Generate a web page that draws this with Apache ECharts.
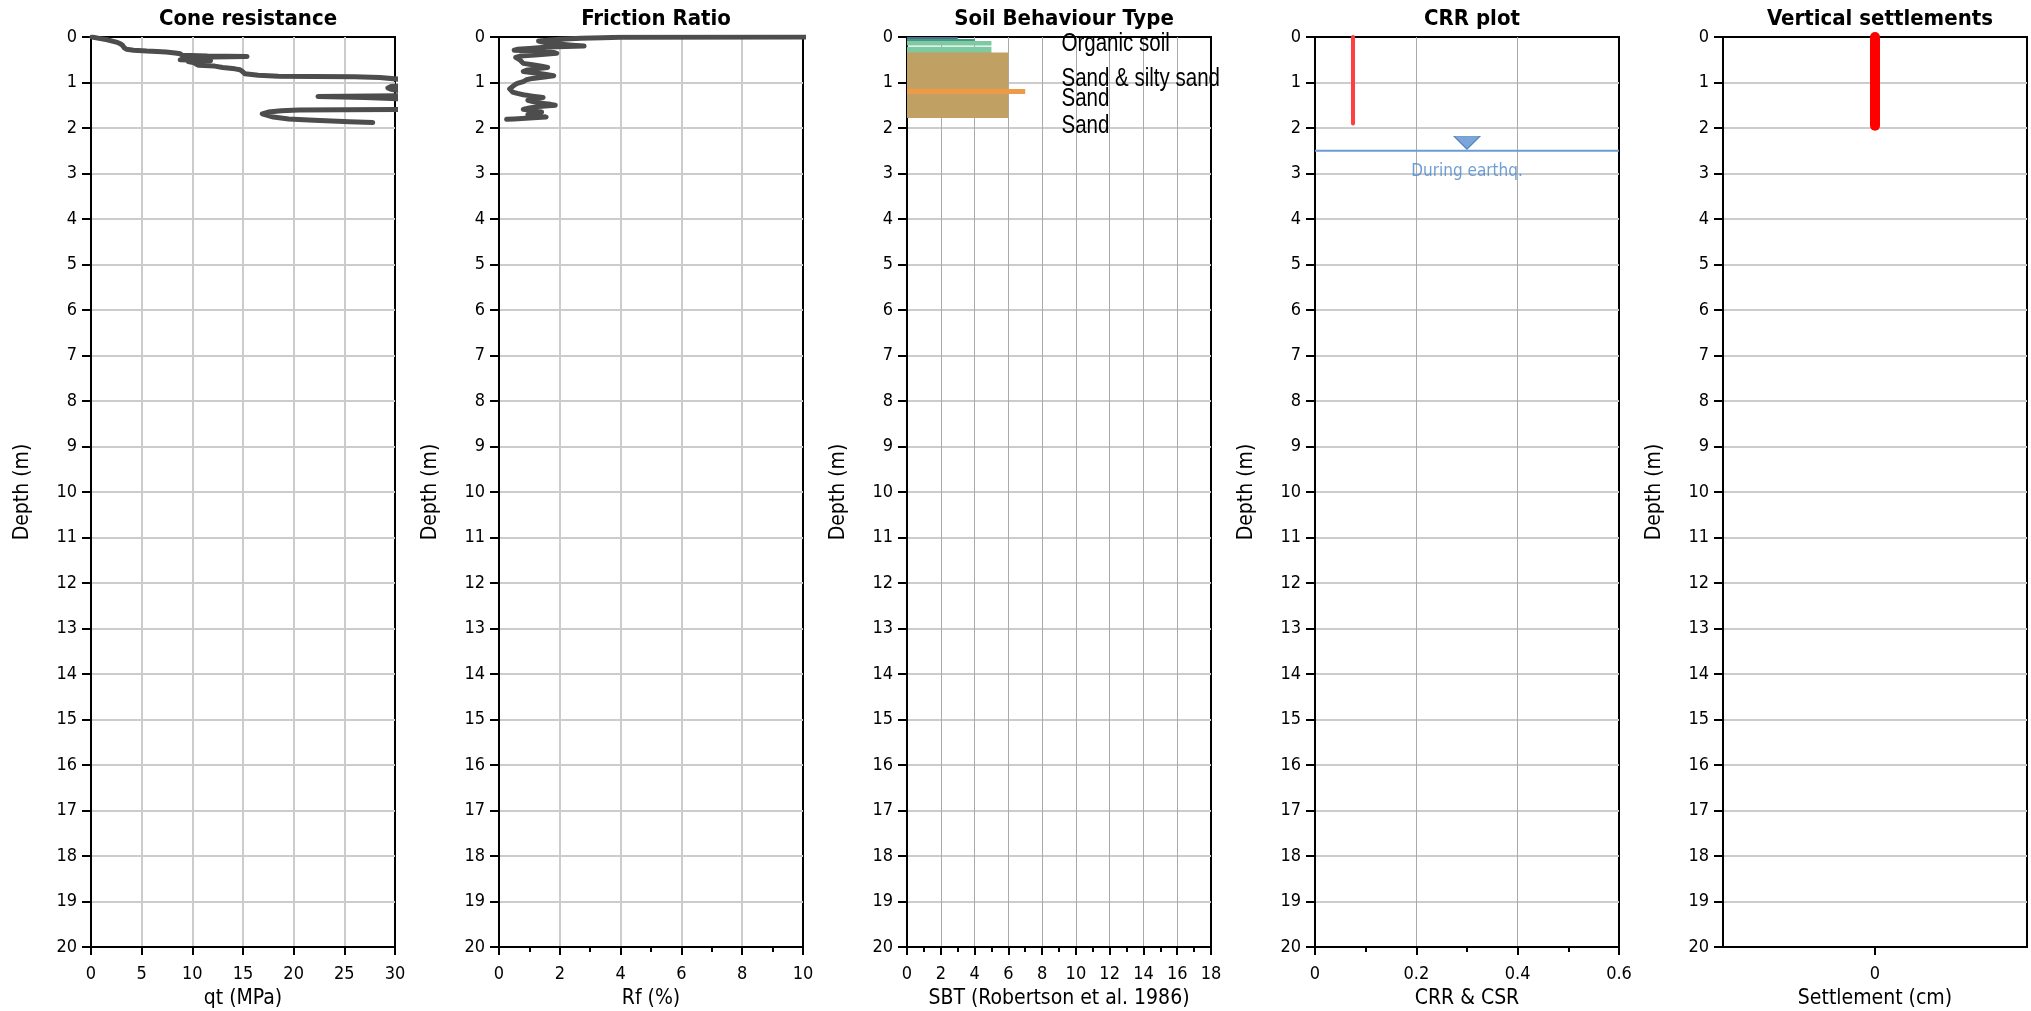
<!DOCTYPE html>
<html>
<head>
<meta charset="utf-8">
<title>CPT liquefaction profile</title>
<script src="https://cdn.jsdelivr.net/npm/echarts@6/dist/echarts.min.js"></script>
<style>
  html, body { margin: 0; padding: 0; background: #ffffff; }
  #chart { width: 2031px; height: 1011px; }
</style>
</head>
<body>
<div id="chart"></div>
<script>
// ---- Cone resistance qt (MPa) against depth (m)
const coneDepth = [0.00, 0.03, 0.06, 0.09, 0.12, 0.15, 0.18, 0.21, 0.24, 0.27, 0.29, 0.31, 0.32, 0.33, 0.35, 0.37,
  0.40, 0.42, 0.43, 0.44, 0.46, 0.48, 0.50, 0.52, 0.54, 0.57, 0.60, 0.62, 0.64, 0.67, 0.70, 0.72, 0.75, 0.78,
  0.81, 0.84, 0.86, 0.87, 0.875, 0.89, 0.93, 0.98, 1.05, 1.09, 1.12, 1.15, 1.18, 1.24, 1.29, 1.305, 1.33, 1.36,
  1.45, 1.56, 1.59, 1.60, 1.605, 1.62, 1.65, 1.69, 1.72, 1.76, 1.80, 1.83, 1.86, 1.88];
const coneQt = [0.1, 0.8, 1.6, 2.1, 2.6, 2.9, 3.1, 3.2, 3.3, 3.5, 4.2, 5.5, 6.5, 7.4, 8.3, 8.8,
  9.0, 11.5, 15.4, 12.0, 9.2, 10.5, 8.8, 11.8, 9.6, 10.2, 10.4, 10.6, 12.2, 13.0, 14.2, 14.7, 14.9, 15.0,
  15.2, 16.5, 18.5, 22.0, 26.0, 28.5, 30.5, 33.0, 31.5, 29.6, 29.3, 29.6, 30.4, 32.0, 31.0, 22.4, 27.0, 31.0,
  34.0, 32.0, 31.0, 25.0, 20.5, 18.8, 17.5, 16.9, 16.9, 18.0, 19.5, 22.0, 25.5, 27.8];

// ---- Friction ratio Rf (%) against depth (m)
const frDepth = [0.000, 0.005, 0.015, 0.03, 0.05, 0.07, 0.09, 0.12, 0.15, 0.18, 0.20, 0.22, 0.25, 0.27, 0.29,
  0.31, 0.34, 0.36, 0.39, 0.42, 0.45, 0.48, 0.51, 0.55, 0.58, 0.61, 0.64, 0.67, 0.70, 0.73, 0.76, 0.79, 0.82,
  0.85, 0.88, 0.91, 0.94, 0.98, 1.02, 1.06, 1.10, 1.14, 1.18, 1.21, 1.24, 1.27, 1.30, 1.33, 1.36, 1.39, 1.42,
  1.45, 1.48, 1.50, 1.53, 1.56, 1.59, 1.62, 1.65, 1.68, 1.71, 1.74, 1.76, 1.78, 1.80, 1.81];
const frRf = [10.5, 4.0, 3.4, 2.7, 2.0, 1.6, 1.3, 1.5, 1.9, 2.4, 2.8, 1.6, 1.0, 0.6, 0.5,
  1.2, 1.8, 1.9, 1.3, 0.7, 0.55, 0.6, 0.7, 0.7, 0.8, 1.1, 1.4, 1.6, 1.2, 0.9, 0.8, 1.2, 1.5,
  1.8, 1.5, 1.1, 0.9, 0.8, 0.6, 0.5, 0.45, 0.35, 0.35, 0.45, 0.6, 0.8, 1.1, 1.45, 1.2, 0.95, 0.9,
  1.3, 1.7, 1.85, 1.3, 1.0, 0.8, 1.1, 1.4, 1.45, 0.95, 1.4, 1.55, 1.0, 0.5, 0.25];

// ---- Soil behaviour type layers (Robertson et al. 1986)
const sbtTop = [0.00, 0.044, 0.088, 0.213, 0.338, 1.143];
const sbtBottom = [0.044, 0.088, 0.185, 0.352, 1.780, 1.253];
const sbtZone = [3, 4, 5, 5, 6, 7];
const sbtLabelText = ['Organic soil', 'Sand & silty sand', 'Sand', 'Sand'];
const sbtLabelDepth = [0.15, 0.93, 1.36, 1.95];

// ---- CRR profile and water table
const crrDepth = [0, 1.9];
const crrValue = [0.075, 0.075];
const waterTableDepth = 2.5;
const waterTableLabel = 'During earthq.';

// ---- Vertical settlements (cm)
const settleDepth = [0, 1.95];
const settleValue = [0, 0];

// ---- panel titles and axis names
const panelTitles = ['Cone resistance', 'Friction Ratio', 'Soil Behaviour Type', 'CRR plot', 'Vertical settlements'];
const xNames = ['qt (MPa)', 'Rf (%)', 'SBT (Robertson et al. 1986)', 'CRR & CSR', 'Settlement (cm)'];
const depthName = 'Depth (m)';

// colours per SBT zone
const zoneColor = { 3: '#4b6f8a', 4: '#3f9a86', 5: '#7ec8a2', 6: '#c1a064', 7: '#f09a48' };

const FONT = "'DejaVu Sans Condensed', 'DejaVu Sans', sans-serif";
const LABEL_FONT = "'Liberation Sans', Arial, sans-serif";
const gridLeft = [91, 499, 907, 1315, 1723];
const gridW = 304, gridTop = 37, gridH = 910;

const xSpec = [
  { min: 0, max: 30, interval: 5, minor: false, splitColor: '#cccccc', splitWidth: 2 },
  { min: 0, max: 10, interval: 2, minor: true, splitColor: '#cccccc', splitWidth: 2 },
  { min: 0, max: 18, interval: 2, minor: true, splitColor: '#aaaaaa', splitWidth: 1 },
  { min: 0, max: 0.6, interval: 0.2, minor: true, splitColor: '#aaaaaa', splitWidth: 1 },
  { min: -1, max: 1, interval: 1, minor: false, splitColor: '#cccccc', splitWidth: 2, onlyZero: true }
];

const grids = gridLeft.map(l => ({
  left: l, top: gridTop, width: gridW, height: gridH,
  show: true, borderColor: '#000', borderWidth: 2, backgroundColor: 'transparent',
  containLabel: false, outerBoundsMode: 'none'
}));

const xAxes = xSpec.map((s, i) => {
  const ax = {
    type: 'value', gridIndex: i, min: s.min, max: s.max, interval: s.interval,
    name: xNames[i], nameLocation: 'middle', nameGap: 34,
    nameTextStyle: { fontFamily: FONT, fontSize: 21, color: '#000' },
    axisLine: { show: true, onZero: false, lineStyle: { color: '#000', width: 2 } },
    axisTick: { show: true, inside: false, length: 8, lineStyle: { color: '#000', width: 2 } },
    minorTick: { show: s.minor, splitNumber: 2, length: 5, lineStyle: { color: '#000', width: 2 } },
    axisLabel: { show: true, fontFamily: FONT, fontSize: 18, color: '#000', margin: 18,
      formatter: v => String(Math.round(v * 100) / 100) },
    splitLine: { show: true, showMinLine: false, showMaxLine: false,
      lineStyle: { color: s.splitColor, width: s.splitWidth } },
    minorSplitLine: { show: false }
  };
  if (s.onlyZero) {
    ax.axisLabel.formatter = v => (Math.abs(v) < 1e-9 ? '0' : '');
    ax.axisLabel.customValues = [0];
    ax.axisTick.customValues = [0];
  }
  return ax;
});

const yAxes = gridLeft.map((l, i) => ({
  type: 'value', gridIndex: i, inverse: true, min: 0, max: 20, interval: 1,
  name: depthName, nameLocation: 'middle', nameGap: 58, nameRotate: 90,
  nameTextStyle: { fontFamily: FONT, fontSize: 21, color: '#000' },
  axisLine: { show: true, onZero: false, lineStyle: { color: '#000', width: 2 } },
  axisTick: { show: true, inside: false, length: 9, lineStyle: { color: '#000', width: 2 } },
  axisLabel: { show: true, fontFamily: FONT, fontSize: 18, color: '#000', margin: 14 },
  splitLine: { show: true, showMinLine: false, showMaxLine: false,
    lineStyle: { color: '#cccccc', width: 2 } }
}));

const titles = panelTitles.map((t, i) => ({
  text: t, left: gridLeft[i] + gridW / 2, top: 3, textAlign: 'center',
  textStyle: { fontFamily: FONT, fontSize: 22, fontWeight: 'bold', color: '#000' }
}));

const pairs = (xs, ys) => xs.map((x, k) => [x, ys[k]]);

const series = [
  {
    type: 'line', xAxisIndex: 0, yAxisIndex: 0, clip: true, symbol: 'none',
    data: pairs(coneQt, coneDepth),
    lineStyle: { color: '#4d4d4d', width: 5, join: 'round', cap: 'round' }
  },
  {
    type: 'line', xAxisIndex: 1, yAxisIndex: 1, clip: true, symbol: 'none',
    data: pairs(frRf, frDepth),
    lineStyle: { color: '#4d4d4d', width: 5, join: 'round', cap: 'round' }
  },
  {
    // one rectangle per layer, from SBT = 0 out to the zone number
    type: 'custom', xAxisIndex: 2, yAxisIndex: 2, clip: true,
    data: sbtTop.map((t, k) => [t, sbtBottom[k], sbtZone[k]]),
    encode: { x: 2, y: [0, 1] },
    renderItem: (params, api) => {
      const p0 = api.coord([0, api.value(0)]);
      const p1 = api.coord([api.value(2), api.value(1)]);
      return {
        type: 'rect',
        shape: { x: p0[0], y: p0[1], width: p1[0] - p0[0], height: p1[1] - p0[1] },
        style: { fill: zoneColor[api.value(2)] }
      };
    }
  },
  {
    // layer names, set in a narrow face
    type: 'custom', xAxisIndex: 2, yAxisIndex: 2, clip: false, silent: true,
    data: sbtLabelDepth.map(d => [9.15, d]),
    encode: { x: 0, y: 1 },
    renderItem: (params, api) => {
      const p = api.coord([api.value(0), api.value(1)]);
      return {
        type: 'text', x: p[0], y: p[1], scaleX: 0.82, z2: 10,
        style: {
          text: sbtLabelText[params.dataIndex], fontFamily: LABEL_FONT, fontSize: 25,
          fill: '#000', align: 'left', verticalAlign: 'middle'
        }
      };
    }
  },
  {
    type: 'line', xAxisIndex: 3, yAxisIndex: 3, symbol: 'none',
    data: pairs(crrValue, crrDepth),
    lineStyle: { color: '#ff4040', width: 4, cap: 'round' }
  },
  {
    type: 'line', xAxisIndex: 3, yAxisIndex: 3, symbol: 'none', silent: true,
    data: [[0, waterTableDepth], [0.6, waterTableDepth]],
    lineStyle: { color: '#6d9bd6', width: 2 }
  },
  {
    type: 'scatter', xAxisIndex: 3, yAxisIndex: 3, silent: true,
    symbol: 'triangle', symbolRotate: 180, symbolSize: [26, 13], symbolOffset: [0, -8],
    data: [[0.3, waterTableDepth]],
    itemStyle: { color: '#5b8fd0', borderColor: '#3d73b8', borderWidth: 1 },
    label: {
      show: true, position: 'bottom', distance: 13, formatter: waterTableLabel,
      fontFamily: FONT, fontSize: 17, color: '#4a88cc'
    }
  },
  {
    type: 'line', xAxisIndex: 4, yAxisIndex: 4, symbol: 'none',
    data: pairs(settleValue, settleDepth),
    lineStyle: { color: '#ff0000', width: 10, cap: 'round' }
  }
];

const chart = echarts.init(document.getElementById('chart'), null, { renderer: 'canvas' });
chart.setOption({
  animation: false,
  backgroundColor: '#ffffff',
  title: titles,
  grid: grids,
  xAxis: xAxes,
  yAxis: yAxes,
  series: series
});
</script>
</body>
</html>
